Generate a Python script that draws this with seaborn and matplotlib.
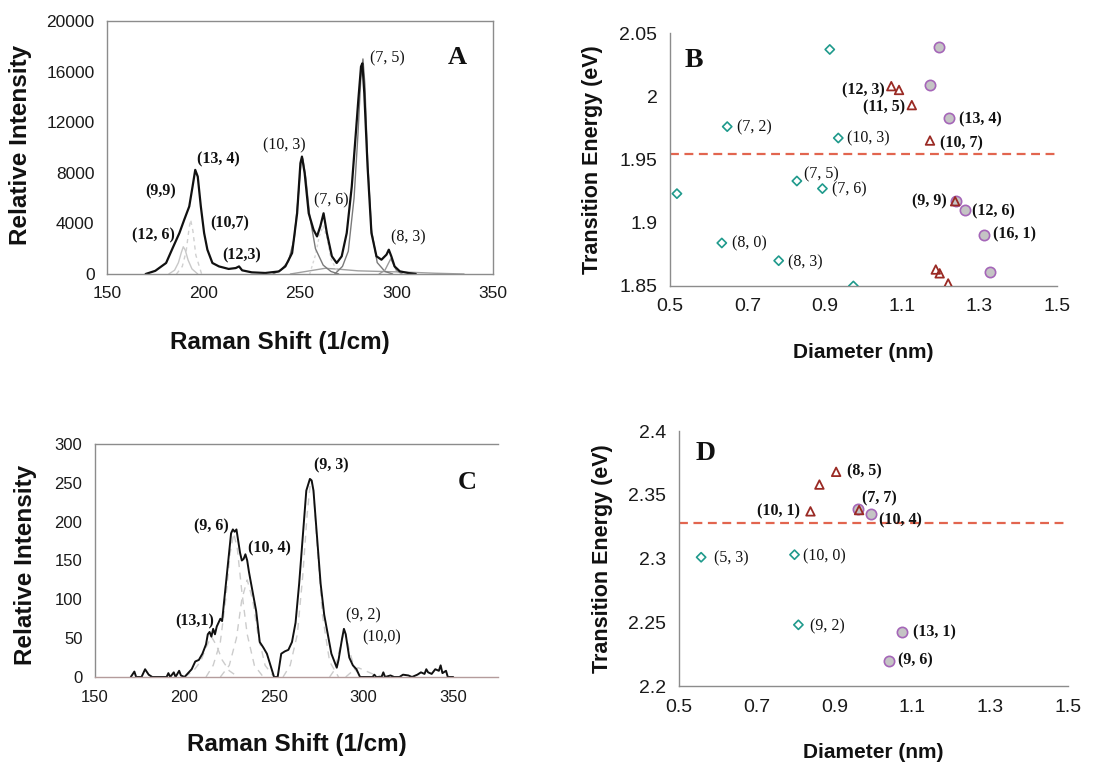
"""
plot.py
Raman spectra of carbon nanotubes (panels A, C) and the matching
Kataura-style transition energy vs diameter plots (panels B, D).
"""

import pandas as pd
import matplotlib.pyplot as plt
import seaborn as sns
from matplotlib.ticker import FuncFormatter

# ---------------------------------------------------------
# Panel A: spectrum (black) and fitted components (gray)
# ---------------------------------------------------------
a_shift = [170, 175, 180.6, 184, 187.5, 190, 192.6, 194.3, 195.7, 197, 198.6, 200.3,
           202, 204.6, 208, 213, 216.7, 218.4, 220, 225, 232, 239, 242.4, 245.9,
           248.5, 250.2, 251, 252.4, 254.5, 257, 258.8, 260.5, 262.2, 263.9, 266.5,
           269, 271.6, 274.2, 276.8, 278.9, 280.2, 281.6, 282.3, 283.3, 285, 287,
           289.6, 292.2, 294.8, 296, 297.3, 299, 301.7, 306, 310]
a_intensity = [0, 250, 870, 2050, 3240, 4290, 5340, 6900, 8230, 7700, 5340, 3240,
               1920, 870, 600, 400, 470, 600, 290, 130, 80, 200, 600, 1660,
               4800, 8760, 9280, 7970, 4800, 3500, 2970, 3760, 4800, 3240, 1400,
               870, 1400, 3240, 6900, 11100, 13750, 16400, 16650, 14300, 8500, 3240,
               1400, 1130, 1530, 1920, 1400, 600, 210, 80, 0]

a_126_x = [182, 185, 187, 188.5, 189.5, 190.5, 192, 194, 197]
a_126_y = [0, 300, 900, 1700, 2150, 1900, 1100, 400, 0]
a_99_x = [186, 189, 191, 192.5, 193.3, 194.5, 196, 199]
a_99_y = [0, 600, 1800, 3600, 4300, 3400, 1500, 0]
a_103_x = [236, 240, 244, 247, 249, 250.5, 251.5, 253, 255, 258, 262, 266, 270]
a_103_y = [0, 300, 1000, 2800, 6000, 8800, 9100, 7600, 4600, 2000, 700, 200, 0]
a_76_x = [255, 258, 260, 262, 264, 266, 270]
a_76_y = [0, 1500, 3000, 3800, 2800, 1200, 0]
a_75_x = [268, 272, 275, 278, 280, 281.5, 282.6, 283.6, 285, 287, 290, 294, 298]
a_75_y = [0, 600, 1800, 6000, 11000, 15500, 17000, 15000, 9000, 3500, 900, 200, 0]
a_83_x = [291, 294, 296, 297, 298, 300, 303]
a_83_y = [0, 300, 900, 1200, 900, 250, 0]
a_broad_x = [245, 255, 263, 270, 280, 292, 305, 320, 335]
a_broad_y = [0, 250, 450, 380, 250, 200, 150, 60, 0]

# ---------------------------------------------------------
# Panel C: spectrum (black) and fitted components (dashed)
# ---------------------------------------------------------
c_shift = [170, 172, 173, 176, 178, 180, 182, 190, 191, 192, 194, 195, 197, 198,
           200, 202, 204, 206, 208, 210, 212, 213, 214, 215, 216, 217, 218, 220,
           221, 222, 224, 226, 227, 228, 229, 230, 231, 232, 233, 234, 235, 236,
           238, 240, 242, 244, 246, 248, 250, 252, 254, 256, 258, 260, 262, 264,
           266, 268, 270, 271, 272, 274, 276, 278, 280, 282, 284, 285, 286, 288,
           289, 290, 292, 294, 296, 298, 305, 306, 307, 310, 311, 312, 315, 317,
           320, 322, 325, 327, 330, 332, 334, 335, 336, 338, 340, 342, 343, 344,
           346, 347, 350]
c_intensity = [0, 7, 0, 0, 10, 3, 0, 0, 5, 0, 6, 0, 8, 2,
               0, 5, 10, 20, 22, 30, 42, 55, 58, 52, 62, 55, 65, 75,
               72, 95, 140, 185, 190, 187, 190, 175, 160, 150, 152, 158, 150, 135,
               110, 85, 45, 38, 30, 15, 0, 0, 30, 33, 35, 45, 70, 120,
               180, 240, 255, 253, 240, 180, 120, 80, 55, 30, 18, 12, 22, 50,
               62, 55, 25, 15, 10, 0, 0, 3, 0, 0, 6, 0, 2, 0,
               0, 3, 2, 0, 3, 6, 4, 10, 6, 4, 10, 8, 15, 5,
               8, 0, 0]

c_131_x = [200, 205, 209, 212, 215, 218, 221, 225, 230]
c_131_y = [0, 8, 20, 38, 52, 40, 22, 8, 0]
c_96_x = [212, 216, 220, 223, 225.5, 227.5, 229.5, 232, 235, 239, 244]
c_96_y = [0, 15, 45, 100, 160, 185, 165, 110, 55, 15, 0]
c_104_x = [220, 225, 229, 232, 235, 238, 241, 245, 250]
c_104_y = [0, 15, 50, 100, 125, 100, 55, 15, 0]
c_93_x = [255, 259, 263, 266, 268.5, 270.5, 272, 274, 277, 281, 286]
c_93_y = [0, 15, 55, 130, 210, 255, 240, 170, 80, 20, 0]
c_92_x = [281, 284, 287, 289.5, 292, 295, 299]
c_92_y = [0, 10, 40, 60, 35, 10, 0]
c_100_x = [290, 294, 297, 300, 305, 312]
c_100_y = [0, 8, 12, 9, 4, 0]

# ---------------------------------------------------------
# Panel B: transition energy vs diameter (E = 1.955 eV)
# ---------------------------------------------------------
b_semi_d = [0.913, 0.648, 0.935, 0.518, 0.828, 0.894, 0.634, 0.781, 0.974]
b_semi_e = [2.037, 1.976, 1.967, 1.923, 1.933, 1.927, 1.884, 1.870, 1.850]
b_tri_d = [1.072, 1.092, 1.125, 1.172, 1.237, 1.187, 1.197, 1.219]
b_tri_e = [2.008, 2.005, 1.993, 1.965, 1.917, 1.863, 1.860, 1.852]
b_circ_d = [1.196, 1.172, 1.220, 1.238, 1.262, 1.312, 1.326]
b_circ_e = [2.039, 2.009, 1.983, 1.917, 1.910, 1.890, 1.861]
b_laser = 1.954

# labels: (text, x, y, bold, ha)
b_labels = [("(12, 3)", 1.055, 2.005, True, "right"),
            ("(11, 5)", 1.107, 1.991, True, "right"),
            ("(13, 4)", 1.247, 1.982, True, "left"),
            ("(10, 7)", 1.199, 1.963, True, "left"),
            ("(9, 9)", 1.216, 1.917, True, "right"),
            ("(12, 6)", 1.281, 1.909, True, "left"),
            ("(16, 1)", 1.335, 1.891, True, "left"),
            ("(7, 2)", 0.674, 1.975, False, "left"),
            ("(10, 3)", 0.958, 1.967, False, "left"),
            ("(7, 5)", 0.847, 1.938, False, "left"),
            ("(7, 6)", 0.920, 1.926, False, "left"),
            ("(8, 0)", 0.661, 1.884, False, "left"),
            ("(8, 3)", 0.804, 1.869, False, "left")]

# ---------------------------------------------------------
# Panel D: transition energy vs diameter (E = 2.33 eV)
# ---------------------------------------------------------
d_semi_d = [0.557, 0.797, 0.807]
d_semi_e = [2.301, 2.303, 2.248]
d_tri_d = [0.904, 0.861, 0.838, 0.963]
d_tri_e = [2.368, 2.358, 2.337, 2.338]
d_circ_d = [0.961, 0.993, 1.073, 1.041]
d_circ_e = [2.339, 2.335, 2.242, 2.220]
d_laser = 2.328

d_labels = [("(8, 5)", 0.932, 2.368, True, "left"),
            ("(7, 7)", 0.971, 2.347, True, "left"),
            ("(10, 1)", 0.812, 2.337, True, "right"),
            ("(10, 4)", 1.013, 2.330, True, "left"),
            ("(5, 3)", 0.590, 2.300, False, "left"),
            ("(10, 0)", 0.820, 2.302, False, "left"),
            ("(9, 2)", 0.838, 2.247, False, "left"),
            ("(13, 1)", 1.101, 2.242, True, "left"),
            ("(9, 6)", 1.063, 2.220, True, "left")]

# spectrum labels: (text, x, y, bold)
a_labels = [("(7, 5)", 295.4, 17040, False),
            ("(10, 3)", 242.1, 10150, False),
            ("(13, 4)", 207.6, 9020, True),
            ("(9,9)", 178.0, 6520, True),
            ("(10,7)", 213.7, 4020, True),
            ("(12, 6)", 174.2, 3020, True),
            ("(12,3)", 219.6, 1450, True),
            ("(7, 6)", 266.2, 5790, False),
            ("(8, 3)", 306.2, 2925, False)]
c_labels = [("(9, 3)", 281.9, 272, True),
            ("(9, 6)", 215.2, 194, True),
            ("(10, 4)", 247.2, 165, True),
            ("(13,1)", 205.6, 71, True),
            ("(9, 2)", 299.6, 79, False),
            ("(10,0)", 310.2, 51, False)]

SERIF = "Liberation Serif"
SANS = "Liberation Sans"
AXIS_GRAY = "#8c8c8c"
TEAL = "#1f9a8c"
DARK_RED = "#9a2a24"
PURPLE = "#a566b8"
CIRCLE_FILL = "#c4c4c4"
LASER = "#e2654f"
NOTE_SIZE = 11.5

sns.set_style("white")
plt.rcParams["font.family"] = [SANS, "DejaVu Sans"]
plt.rcParams["text.color"] = "#111111"
plt.rcParams["axes.labelcolor"] = "#111111"
plt.rcParams["xtick.labelcolor"] = "#1a1a1a"
plt.rcParams["ytick.labelcolor"] = "#1a1a1a"

fig = plt.figure(figsize=(10.99, 7.63), dpi=100)
ax_a = fig.add_axes([0.0974, 0.6409, 0.3512, 0.3316])
ax_b = fig.add_axes([0.6096, 0.6252, 0.3521, 0.3315])
ax_c = fig.add_axes([0.0864, 0.1127, 0.3667, 0.3054])
ax_d = fig.add_axes([0.6178, 0.1009, 0.3540, 0.3342])


def style_axis(ax, box, tick_size):
    for side in ["left", "bottom", "top", "right"]:
        ax.spines[side].set_color(AXIS_GRAY)
        ax.spines[side].set_linewidth(1.0)
    if not box:
        ax.spines["top"].set_visible(False)
        ax.spines["right"].set_visible(False)
    ax.tick_params(direction="out", length=4, width=1, color=AXIS_GRAY,
                   labelsize=tick_size, pad=5)
    ax.xaxis.set_major_formatter(FuncFormatter(lambda v, p: f"{v:g}"))
    ax.yaxis.set_major_formatter(FuncFormatter(lambda v, p: f"{v:g}"))


def line(ax, x, y, color, lw, ls="-"):
    sns.lineplot(x=x, y=y, ax=ax, color=color, linewidth=lw, linestyle=ls,
                 sort=False, estimator=None)


# ---------------------------------------------------------
# Panel A
# ---------------------------------------------------------
line(ax_a, a_broad_x, a_broad_y, "#a0a0a0", 1.0)
line(ax_a, a_126_x, a_126_y, "#c8c8c8", 1.0)
line(ax_a, a_99_x, a_99_y, "#d0d0d0", 1.0, (0, (3, 3)))
line(ax_a, a_76_x, a_76_y, "#d8d8d8", 1.0, (0, (2, 2)))
line(ax_a, a_103_x, a_103_y, "#7a7a7a", 1.0)
line(ax_a, a_75_x, a_75_y, "#7a7a7a", 1.0)
line(ax_a, a_83_x, a_83_y, "#9a9a9a", 1.0)
line(ax_a, a_shift, a_intensity, "#111111", 1.6)
ax_a.set_xlim(150, 350)
ax_a.set_ylim(0, 20000)
ax_a.set_xticks(range(150, 351, 50))
ax_a.set_yticks(range(0, 20001, 4000))
style_axis(ax_a, True, 12.5)
for text, x, y, bold in a_labels:
    ax_a.text(x, y, text, ha="center", va="center", family=SERIF, fontsize=NOTE_SIZE,
              fontweight="bold" if bold else "normal")
ax_a.text(331.4, 17075, "A", ha="center", va="center", family=SERIF,
          fontsize=19, fontweight="bold")
ax_a.set_xlabel("Raman Shift (1/cm)", fontsize=17.5, fontweight="bold")
ax_a.set_ylabel("Relative Intensity", fontsize=17.5, fontweight="bold")
ax_a.xaxis.set_label_coords(0.448, -0.225)
ax_a.yaxis.set_label_coords(-0.194, 0.51)

# ---------------------------------------------------------
# Panel C
# ---------------------------------------------------------
dash = (0, (5, 4))
for cx, cy in [(c_131_x, c_131_y), (c_96_x, c_96_y), (c_104_x, c_104_y),
               (c_93_x, c_93_y), (c_92_x, c_92_y), (c_100_x, c_100_y)]:
    line(ax_c, cx, cy, "#cccccc", 1.0, dash)
line(ax_c, c_shift, c_intensity, "#111111", 1.4)
ax_c.set_xlim(150, 375)
ax_c.set_ylim(0, 300)
ax_c.set_xticks(range(150, 351, 50))
ax_c.set_yticks(range(0, 301, 50))
style_axis(ax_c, True, 12)
ax_c.spines["bottom"].set_color("#b49c9c")
ax_c.spines["right"].set_visible(False)
for text, x, y, bold in c_labels:
    ax_c.text(x, y, text, ha="center", va="center", family=SERIF, fontsize=NOTE_SIZE,
              fontweight="bold" if bold else "normal")
ax_c.text(358, 250, "C", ha="center", va="center", family=SERIF,
          fontsize=19, fontweight="bold")
ax_c.set_xlabel("Raman Shift (1/cm)", fontsize=17.5, fontweight="bold")
ax_c.set_ylabel("Relative Intensity", fontsize=17.5, fontweight="bold")
ax_c.xaxis.set_label_coords(0.5, -0.239)
ax_c.yaxis.set_label_coords(-0.144, 0.48)


# ---------------------------------------------------------
# Panels B and D (Kataura plots)
# ---------------------------------------------------------
def kataura(ax, semi_d, semi_e, tri_d, tri_e, circ_d, circ_e, laser,
            labels, ylim, yticks, letter, letter_xy):
    ax.axhline(laser, color=LASER, linewidth=1.6, linestyle=(0, (4, 2.5)),
               zorder=1)
    sns.scatterplot(x=semi_d, y=semi_e, ax=ax, marker="D", s=22,
                    facecolor="none", edgecolor=TEAL, linewidth=1.2, zorder=3)
    sns.scatterplot(x=circ_d, y=circ_e, ax=ax, marker="o", s=55,
                    facecolor=CIRCLE_FILL, edgecolor=PURPLE, linewidth=1.2,
                    zorder=3)
    sns.scatterplot(x=tri_d, y=tri_e, ax=ax, marker="^", s=38,
                    facecolor="none", edgecolor=DARK_RED, linewidth=1.3,
                    zorder=4)
    ax.set_xlim(0.5, 1.5)
    ax.set_ylim(*ylim)
    ax.set_xticks([0.5, 0.7, 0.9, 1.1, 1.3, 1.5])
    ax.set_yticks(yticks)
    style_axis(ax, False, 14)
    for text, x, y, bold, ha in labels:
        ax.text(x, y, text, ha=ha, va="center", family=SERIF, fontsize=NOTE_SIZE,
                fontweight="bold" if bold else "normal")
    ax.text(*letter_xy, letter, ha="center", va="center", family=SERIF,
            fontsize=20, fontweight="bold")
    ax.set_xlabel("Diameter (nm)", fontsize=15, fontweight="bold")
    ax.set_ylabel("Transition Energy (eV)", fontsize=15.5, fontweight="bold")


kataura(ax_b, b_semi_d, b_semi_e, b_tri_d, b_tri_e, b_circ_d, b_circ_e, b_laser,
        b_labels, (1.85, 2.05), [1.85, 1.9, 1.95, 2.0, 2.05], "B", (0.562, 2.028))
ax_b.xaxis.set_label_coords(0.5, -0.225)
ax_b.yaxis.set_label_coords(-0.173, 0.5)

kataura(ax_d, d_semi_d, d_semi_e, d_tri_d, d_tri_e, d_circ_d, d_circ_e, d_laser,
        d_labels, (2.2, 2.4), [2.2, 2.25, 2.3, 2.35, 2.4], "D", (0.568, 2.382))
ax_d.xaxis.set_label_coords(0.5, -0.222)
ax_d.yaxis.set_label_coords(-0.17, 0.5)

fig.savefig("out.png", dpi=100)
